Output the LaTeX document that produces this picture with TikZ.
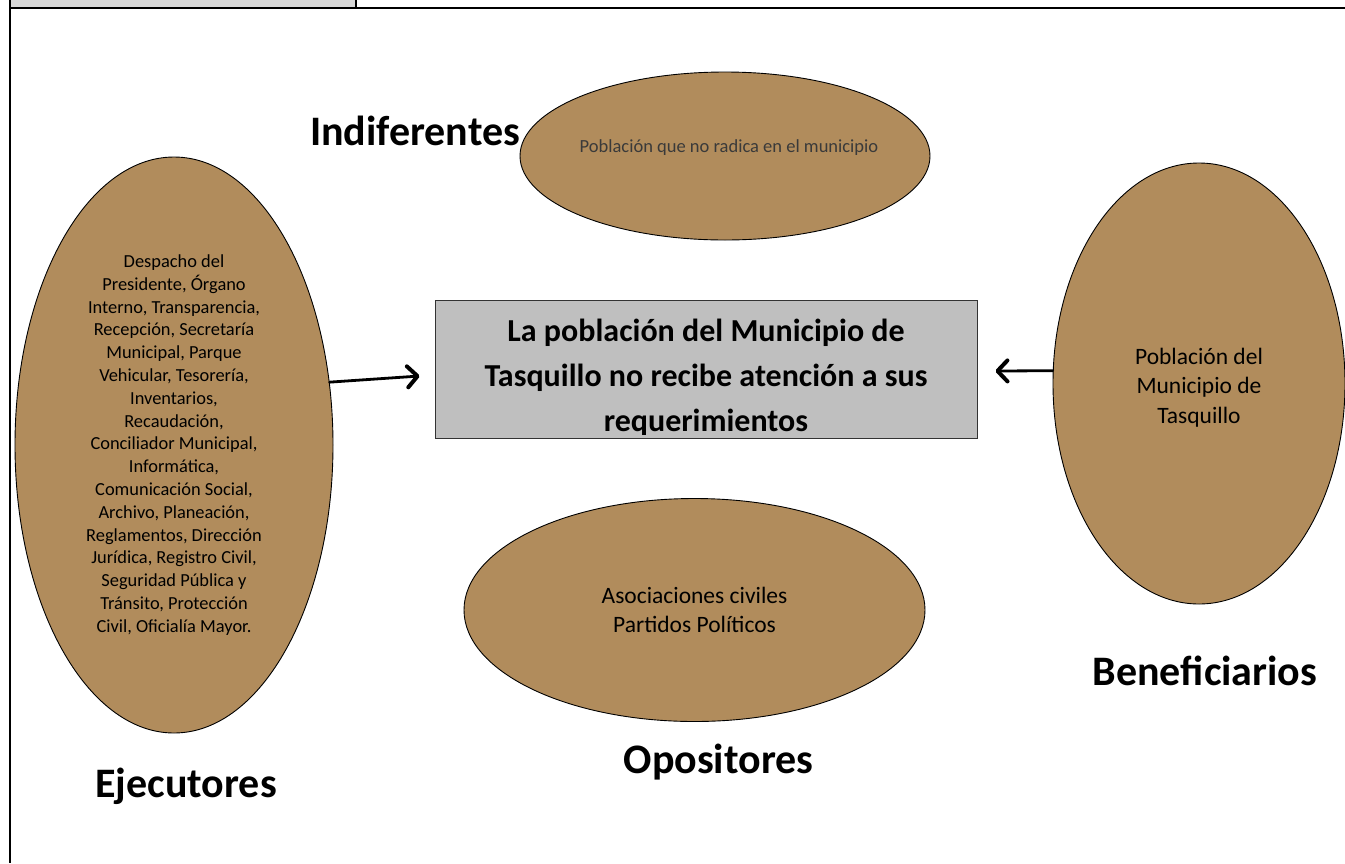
\documentclass[tikz,border=0pt]{standalone}
\usepackage{fontspec}
\setmainfont{Carlito}
\usetikzlibrary{shapes.geometric,arrows.meta,calc}
\definecolor{stakefill}{HTML}{B18C5C}
\definecolor{boxgray}{HTML}{BFBFBF}
\definecolor{bandgray}{HTML}{D9D9D9}
\definecolor{dimtext}{HTML}{3A3A3A}
\begin{document}
\begin{tikzpicture}[x=1pt,y=-1pt,
  stake/.style={ellipse, draw=black, line width=0.9pt, fill=stakefill, inner sep=0pt, align=center},
  grouplabel/.style={font=\bfseries\fontsize{42}{46}\selectfont, anchor=base, inner sep=0pt},
  probbox/.style={draw=black!80, line width=0.9pt, fill=boxgray, inner sep=0pt},
  probtext/.style={font=\bfseries\fontsize{32}{45}\selectfont, align=center, anchor=base, inner sep=0pt},
  arr/.style={line width=2.8pt, line cap=round,
    -{Straight Barb[length=10pt,width=21pt,line width=4pt,round]}},
  frameline/.style={line width=2pt}
]
\useasboundingbox (0,0) rectangle (1345,863);
% header band and frame
\fill[bandgray] (11,0) rectangle (355,7);
\draw[frameline] (10,0) -- (10,863);
\draw[frameline] (9,8) -- (1345,8);
\draw[frameline] (356,0) -- (356,8);

% stakeholders
\node[stake, minimum width=318pt, minimum height=576pt,
      font=\fontsize{18.4}{22.8}\selectfont] (eje) at (174,445)
  {Despacho del\\Presidente, Órgano\\Interno, Transparencia,\\Recepción, Secretaría\\Municipal, Parque\\Vehicular, Tesorería,\\Inventarios,\\Recaudación,\\Conciliador Municipal,\\Informática,\\Comunicación Social,\\Archivo, Planeación,\\Reglamentos, Dirección\\Jurídica, Registro Civil,\\Seguridad Pública y\\Tránsito, Protección\\Civil, Oficialía Mayor.};

\node[stake, minimum width=410pt, minimum height=168pt] (ind) at (725,156) {};
\node[font=\fontsize{18.5}{22}\selectfont, text=dimtext, inner sep=0pt] (indtxt) at (729,148)
  {Población que no radica en el municipio};

\node[stake, minimum width=292pt, minimum height=441pt] (ben) at (1199,383.5) {};
\node[font=\fontsize{23.5}{29.5}\selectfont, align=center, inner sep=0pt] (bentxt) at (1199,387.5)
  {Población del\\Municipio de\\Tasquillo};

\node[stake, minimum width=461pt, minimum height=223pt,
      font=\fontsize{23.5}{28.5}\selectfont] (opo) at (694.5,610)
  {Asociaciones civiles\\Partidos Políticos};

% central problem
\node[probbox, minimum width=542pt, minimum height=138pt] (prob) at (706,369) {};
\begin{scope}
  \clip (prob.north west) rectangle ($(prob.south east)+(0,-4)$);
  \node[probtext] (probtxt) at (706,431)
    {La población del Municipio de\\Tasquillo no recibe atención a sus\\requerimientos};
\end{scope}

% arrows
\draw[arr] (eje.22) -- ($(prob.west)+(-15,7)$);
\draw[arr] (ben.175) -- ($(prob.east)+(18,2)$);

% group labels
\node[grouplabel] (lind) at (415,145) {Indiferentes};
\node[grouplabel] (leje) at (186,797) {Ejecutores};
\node[grouplabel] (lopo) at (718.5,773) {Opositores};
\node[grouplabel] (lben) at (1205,685) {Beneficiarios};
\end{tikzpicture}
\end{document}
